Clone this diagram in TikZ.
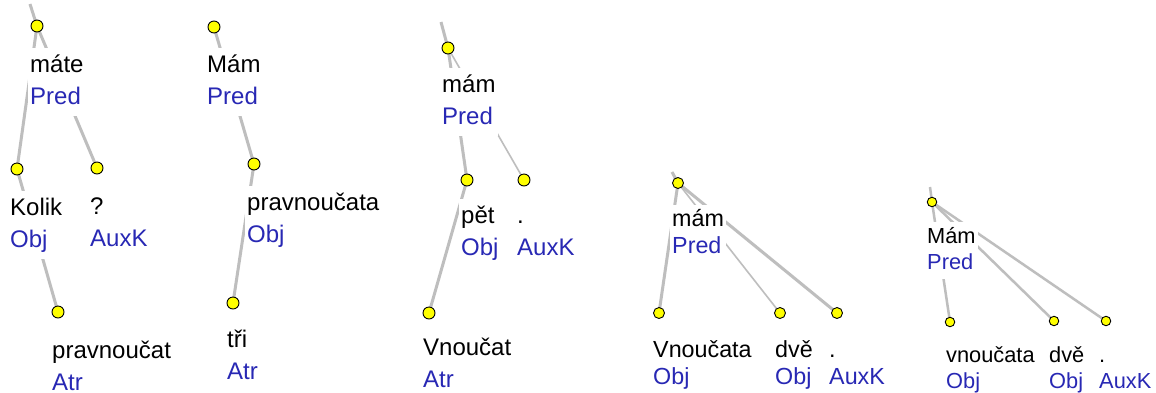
\documentclass[tikz,border=0pt]{standalone}
\usepackage{fontspec}
\setmainfont{Liberation Sans}
\definecolor{afun}{RGB}{40,40,180}
\definecolor{linegray}{RGB}{190,190,190}
\definecolor{dotyellow}{RGB}{255,255,0}
\newcommand\lab[2]{\begin{tabular}[t]{@{}l@{}}#1\\\color{afun}#2\end{tabular}}
\begin{document}
\begin{tikzpicture}[x=1pt,y=-1pt,
  lbl/.style={anchor=base west, fill=white, inner sep=2pt, text=black},
  fA/.style={font=\fontsize{24}{32}\selectfont},
  fB/.style={font=\fontsize{23.3}{27}\selectfont},
  fC/.style={font=\fontsize{21.8}{26.5}\selectfont},
  dot/.style={circle, fill=dotyellow, draw=black, line width=0.9pt, inner sep=0pt, minimum size=12pt},
  dotB/.style={dot, minimum size=11pt},
  dotC/.style={dot, minimum size=9.5pt},
  thick edge/.style={draw=linegray, line width=3pt},
  mid edge/.style={draw=linegray, line width=2.5pt},
  thin edge/.style={draw=linegray, line width=1.6pt}]
\clip (0,0) rectangle (1156,392);
\fill[white] (0,0) rectangle (1156,392);
% ---------- coordinates of tree nodes ----------
% tree 1
\coordinate (r1) at (30,4);
\coordinate (a1) at (37,26);
\coordinate (b1) at (17,169);
\coordinate (c1) at (97,168);
\coordinate (d1) at (58,312);
% tree 2
\coordinate (a2) at (214,27);
\coordinate (b2) at (254,164);
\coordinate (c2) at (233,303);
% tree 3
\coordinate (r3) at (441,22);
\coordinate (a3) at (448,48);
\coordinate (b3) at (467,180);
\coordinate (c3) at (524,180);
\coordinate (d3) at (429,313);
% tree 4
\coordinate (r4) at (672,172);
\coordinate (a4) at (678,183);
\coordinate (b4) at (659,313);
\coordinate (c4) at (780,313);
\coordinate (d4) at (837,313);
% tree 5
\coordinate (r5) at (930,187);
\coordinate (a5) at (932,202);
\coordinate (b5) at (950,322);
\coordinate (c5) at (1054,321);
\coordinate (d5) at (1106,321);
% ---------- edges ----------
\path[thick edge] (r1) -- (a1);
\path[thick edge] (a1) -- (b1);
\path[thick edge] (a1) -- (c1);
\path[thick edge] (b1) -- (d1);
\path[thick edge] (a2) -- (b2);
\path[thick edge] (b2) -- (c2);
\path[thick edge] (r3) -- (a3);
\path[thick edge] (a3) -- (b3);
\path[thin edge] (a3) -- (c3);
\path[thick edge] (b3) -- (d3);
\path[thick edge] (r4) -- (a4);
\path[thick edge] (a4) -- (b4);
\path[thin edge] (a4) -- (c4);
\path[thick edge] (a4) -- (d4);
\path[mid edge] (r5) -- (a5);
\path[mid edge] (a5) -- (b5);
\path[mid edge] (a5) -- (c5);
\path[mid edge] (a5) -- (d5);
% ---------- labels ----------
\node[lbl,fA] (la1) at (28,72) {\lab{máte}{Pred}};
\node[lbl,fA] (lb1) at (8,215) {\lab{Kolik}{Obj}};
\node[lbl,fA] (lc1) at (88,214) {\lab{?}{AuxK}};
\node[lbl,fA] (ld1) at (50,358) {\lab{pravnoučat}{Atr}};
\node[lbl,fA] (la2) at (205,72) {\lab{Mám}{Pred}};
\node[lbl,fA] (lb2) at (245,210) {\lab{pravnoučata}{Obj}};
\node[lbl,fA] (lc2) at (225,347) {\lab{tři}{Atr}};
\node[lbl,fA] (la3) at (440,92) {\lab{mám}{Pred}};
\node[lbl,fA] (lb3) at (459,223) {\lab{pět}{Obj}};
\node[lbl,fA] (lc3) at (515,223) {\lab{.}{AuxK}};
\node[lbl,fA] (ld3) at (421,355) {\lab{Vnoučat}{Atr}};
\node[lbl,fB] (la4) at (670,226) {\lab{mám}{Pred}};
\node[lbl,fB] (lb4) at (651,357) {\lab{Vnoučata}{Obj}};
\node[lbl,fB] (lc4) at (773,357) {\lab{dvě}{Obj}};
\node[lbl,fB] (ld4) at (827,357) {\lab{.}{AuxK}};
\node[lbl,fC] (la5) at (925,243) {\lab{Mám}{Pred}};
\node[lbl,fC] (lb5) at (944,362) {\lab{vnoučata}{Obj}};
\node[lbl,fC] (lc5) at (1047,362) {\lab{dvě}{Obj}};
\node[lbl,fC] (ld5) at (1097,362) {\lab{.}{AuxK}};
% ---------- node circles ----------
\node[dot] (da1) at (a1) {};
\node[dot] (db1) at (b1) {};
\node[dot] (dc1) at (c1) {};
\node[dot] (dd1) at (d1) {};
\node[dot] (da2) at (a2) {};
\node[dot] (db2) at (b2) {};
\node[dot] (dc2) at (c2) {};
\node[dot] (da3) at (a3) {};
\node[dot] (db3) at (b3) {};
\node[dot] (dc3) at (c3) {};
\node[dot] (dd3) at (d3) {};
\node[dotB] (da4) at (a4) {};
\node[dotB] (db4) at (b4) {};
\node[dotB] (dc4) at (c4) {};
\node[dotB] (dd4) at (d4) {};
\node[dotC] (da5) at (a5) {};
\node[dotC] (db5) at (b5) {};
\node[dotC] (dc5) at (c5) {};
\node[dotC] (dd5) at (d5) {};
\end{tikzpicture}
\end{document}
